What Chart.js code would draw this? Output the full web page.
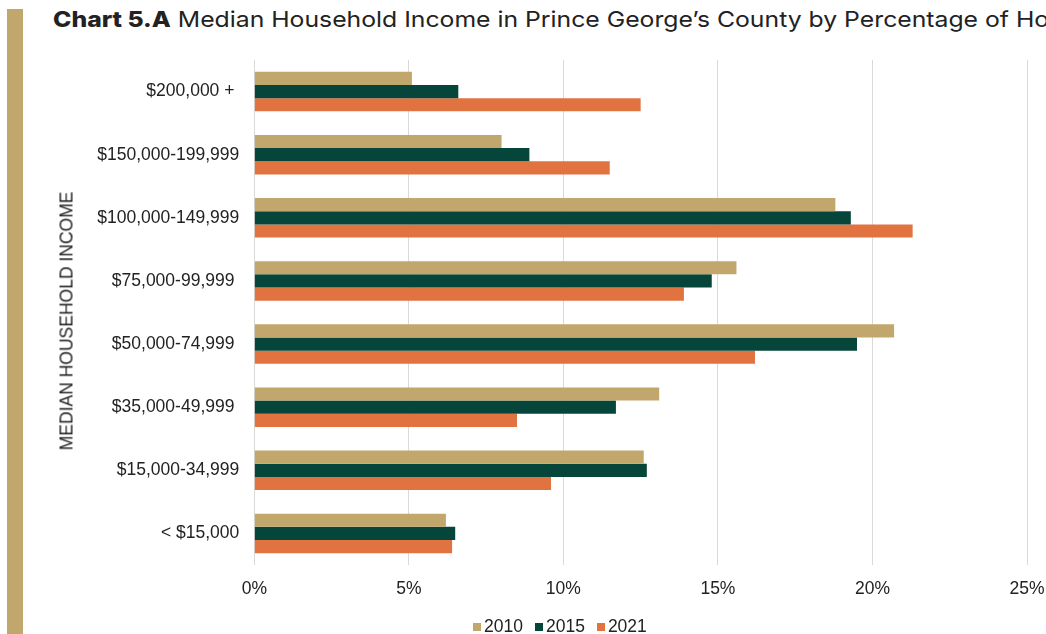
<!DOCTYPE html>
<html>
<head>
<meta charset="utf-8">
<script src="https://cdn.jsdelivr.net/npm/chart.js@4/dist/chart.umd.min.js"></script>
<style>
  html, body { margin: 0; padding: 0; background: #fff; }
  body { width: 1046px; height: 634px; position: relative; overflow: hidden; }
  .sidebar { position: absolute; left: 7px; top: 9px; width: 16px; height: 625px; background: #C2A76D; }
  .title { position: absolute; left: 53px; top: 6px; white-space: nowrap;
           font-family: Inter, "Noto Sans", sans-serif; font-size: 22px; color: #222;
           transform: scaleX(1.125); transform-origin: 0 0; }
  .title b { font-weight: 800; }
  .ytitle { position: absolute; left: 67px; top: 321px; white-space: nowrap;
            font-family: "Liberation Sans", Arial, sans-serif; font-size: 17.5px; color: #222;
            transform: translate(-50%, -50%) rotate(-90deg); }
  #wrap { position: absolute; left: 0; top: 0; width: 1046px; height: 634px; }
  #legend { position: absolute; left: 473px; top: 616px; display: flex; align-items: center;
            font-family: "Liberation Sans", Arial, sans-serif; font-size: 17.5px; color: #222; }
  #legend .item { display: flex; align-items: center; margin-right: 12px; }
  #legend .box { width: 8px; height: 8px; margin-right: 3px; }
</style>
</head>
<body>
<div class="sidebar"></div>
<div class="title"><b>Chart 5.A</b> Median Household Income in Prince George’s County by Percentage of Households</div>
<div id="wrap"><canvas id="chart" width="1046" height="634"></canvas></div>
<div class="ytitle">MEDIAN HOUSEHOLD INCOME</div>
<div id="legend"></div>
<script>
// Income brackets, listed from the top of the chart down
const categories = [
  '$200,000 + ',
  '$150,000-199,999',
  '$100,000-149,999',
  '$75,000-99,999 ',
  '$50,000-74,999 ',
  '$35,000-49,999 ',
  '$15,000-34,999',
  '< $15,000'
];

// Share of households (%) in each bracket
const values2010 = [5.1, 8.0, 18.8, 15.6, 20.7, 13.1, 12.6, 6.2];
const values2015 = [6.6, 8.9, 19.3, 14.8, 19.5, 11.7, 12.7, 6.5];
const values2021 = [12.5, 11.5, 21.3, 13.9, 16.2, 8.5, 9.6, 6.4];

const seriesLabels = ['2010', '2015', '2021'];
const seriesColors = ['#C2A76D', '#06463A', '#E07340'];

const xTicks = [0, 5, 10, 15, 20, 25];

const axisFont = { family: '"Liberation Sans", Arial, sans-serif', size: 17.5 };
const textColor = '#222';

const datasets = [values2010, values2015, values2021].map((vals, i) => ({
  label: seriesLabels[i],
  data: vals,
  backgroundColor: seriesColors[i],
  borderWidth: 0,
  categoryPercentage: 0.625,
  barPercentage: 1.0
}));

new Chart(document.getElementById('chart'), {
  type: 'bar',
  data: { labels: categories, datasets },
  options: {
    indexAxis: 'y',
    responsive: false,
    animation: false,
    layout: { padding: { left: 53, right: 19, top: 60, bottom: 29 } },
    plugins: {
      legend: { display: false },
      tooltip: { enabled: false }
    },
    scales: {
      x: {
        min: xTicks[0],
        max: xTicks[xTicks.length - 1],
        afterBuildTicks: (scale) => { scale.ticks = xTicks.map(v => ({ value: v })); },
        grid: { color: '#D9D9D9', lineWidth: 1, drawTicks: false },
        border: { display: false },
        ticks: {
          font: axisFont, color: textColor, padding: 14,
          callback: (v) => v + '%'
        },
        afterFit: (scale) => {
          scale.height = 40;
          scale.paddingRight = 0;
          scale.paddingLeft = 0;
        }
      },
      y: {
        grid: { display: false },
        border: { display: false },
        ticks: { font: axisFont, color: textColor, padding: 7, autoSkip: false },
        afterFit: (scale) => { scale.width = 201.3; }
      }
    }
  }
});

// Legend built from the series names and colours
const legend = document.getElementById('legend');
seriesLabels.forEach((name, i) => {
  const item = document.createElement('div');
  item.className = 'item';
  const box = document.createElement('span');
  box.className = 'box';
  box.style.background = seriesColors[i];
  const txt = document.createElement('span');
  txt.textContent = name;
  item.appendChild(box);
  item.appendChild(txt);
  legend.appendChild(item);
});
</script>
</body>
</html>
